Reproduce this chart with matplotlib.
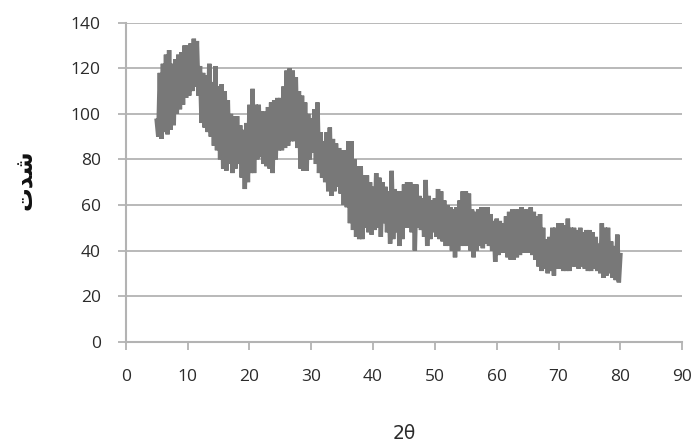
import numpy as np
import matplotlib.pyplot as plt

# XRD scan: 2theta from 5 to 80 deg, 0.25 deg step
theta_start = 5.0
theta_step = 0.25

intensity = [
    97, 90, 118, 89, 122, 92, 126, 91, 128, 93, 122, 95, 124, 100, 126, 102, 127, 104, 130, 107,
    130, 108, 131, 110, 133, 112, 132, 108, 121, 96, 118, 94, 117, 92, 122, 90, 114, 86, 121, 84,
    112, 80, 113, 76, 110, 75, 106, 78, 100, 74, 99, 76, 99, 78, 95, 72, 93, 67, 96, 70,
    104, 74, 111, 74, 104, 80, 104, 81, 101, 78, 101, 77, 103, 76, 105, 74, 106, 80, 107, 84,
    107, 84, 112, 85, 119, 86, 120, 88, 119, 88, 116, 85, 110, 76, 108, 75, 105, 75, 100, 80,
    98, 83, 102, 78, 105, 74, 92, 72, 88, 70, 92, 66, 94, 64, 89, 66, 87, 68, 85, 65,
    84, 60, 84, 59, 88, 52, 88, 49, 80, 46, 77, 45, 77, 45, 73, 50, 73, 48, 70, 47,
    68, 49, 74, 50, 72, 46, 70, 52, 68, 48, 66, 43, 75, 45, 67, 48, 66, 42, 66, 45,
    69, 50, 70, 50, 70, 48, 69, 40, 69, 50, 64, 49, 63, 46, 71, 42, 64, 45, 62, 48,
    63, 46, 67, 45, 66, 44, 62, 42, 60, 42, 59, 40, 58, 37, 59, 40, 62, 42, 66, 42,
    66, 42, 65, 40, 58, 37, 57, 40, 58, 42, 59, 41, 59, 43, 59, 42, 56, 40, 53, 35,
    54, 38, 53, 39, 52, 39, 55, 37, 57, 36, 58, 36, 58, 37, 58, 38, 59, 39, 58, 39,
    58, 39, 59, 38, 57, 36, 55, 33, 56, 31, 50, 32, 45, 30, 46, 31, 50, 29, 50, 32,
    52, 32, 52, 31, 51, 31, 54, 31, 50, 33, 50, 33, 49, 32, 50, 33, 48, 32, 49, 31,
    49, 31, 48, 32, 46, 31, 43, 30, 52, 28, 50, 29, 50, 30, 44, 28, 42, 27, 47, 26,
    38,
]
two_theta = theta_start + theta_step * np.arange(len(intensity))

x_ticks = [0, 10, 20, 30, 40, 50, 60, 70, 80, 90]
y_ticks = [0, 20, 40, 60, 80, 100, 120, 140]

ylabel_text = "شدت"
xlabel_text = "2θ"

# matplotlib does no Arabic shaping: map to contextual forms, visual order
forms = {"ش": "\ufeb7", "د": "\ufeaa", "ت": "\ufe95"}
ylabel_shaped = "".join(forms[c] for c in ylabel_text)[::-1]

grid_col = "#b3b3b3"
tick_col = "#2b2b2b"

fig = plt.figure(figsize=(6.99, 4.46), dpi=100)
ax = fig.add_axes([0.180, 0.234, 0.796, 0.715])

ax.plot(two_theta, intensity, color="#787878", lw=3.2, solid_joinstyle="miter")

ax.set_xlim(0, 90)
ax.set_ylim(0, 140)
ax.set_xticks(x_ticks)
ax.set_yticks(y_ticks)
ax.yaxis.grid(True, color=grid_col, lw=1.3)
ax.set_axisbelow(True)

for s in ["top", "right"]:
    ax.spines[s].set_visible(False)
for s in ["left", "bottom"]:
    ax.spines[s].set_color(grid_col)
    ax.spines[s].set_linewidth(1.5)

ax.tick_params(axis="both", direction="out", length=6, width=1.3, color=grid_col,
               labelcolor=tick_col, labelsize=12.5)
ax.tick_params(axis="y", pad=12)
ax.tick_params(axis="x", pad=14)
for lab in ax.get_xticklabels() + ax.get_yticklabels():
    lab.set_fontfamily("Open Sans")

ax.set_xlabel(xlabel_text, fontsize=13.5, color=tick_col, family="DejaVu Sans", labelpad=28)
fig.text(0.036, 0.596, ylabel_shaped, rotation=90, ha="center", va="center",
         fontsize=17, fontweight="bold", color="#111111", family="DejaVu Sans")

fig.savefig("out.png", dpi=100)
